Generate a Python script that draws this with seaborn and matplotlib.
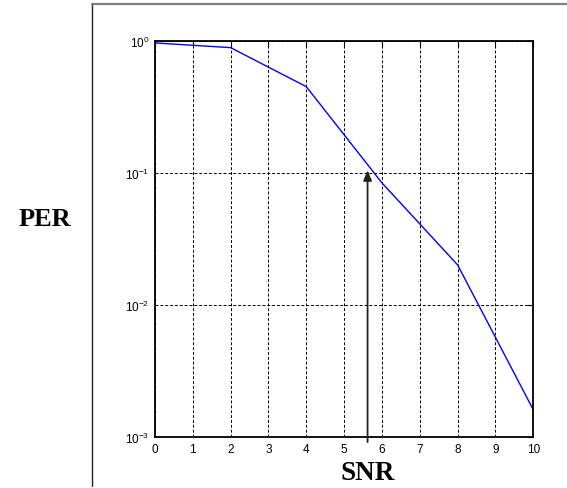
import math
import matplotlib
matplotlib.use("Agg")
import matplotlib.pyplot as plt
import seaborn as sns
import pandas as pd
from matplotlib.lines import Line2D
from matplotlib.ticker import FixedLocator, FuncFormatter, NullLocator

# Data
snr = [0, 2, 4, 6, 8, 10]
per = [0.966, 0.89, 0.451, 0.0843, 0.0202, 0.00162]
x_ticks = list(range(0, 11))
y_ticks = [1e-3, 1e-2, 1e-1, 1e0]
arrow_x = 5.62
arrow_y_tip = 0.105
arrow_y_start = 0.00092

sns.set_style("white")
plt.rcParams['font.family'] = ['Liberation Sans', 'DejaVu Sans']
plt.rcParams['mathtext.fontset'] = 'custom'
plt.rcParams['mathtext.rm'] = 'Liberation Sans'
plt.rcParams['mathtext.default'] = 'regular'
plt.rcParams['text.color'] = 'black'
plt.rcParams['xtick.color'] = 'black'
plt.rcParams['ytick.color'] = 'black'

fig = plt.figure(figsize=(5.67, 4.89), dpi=100)
ax = fig.add_axes([0.2734, 0.1037, 0.667, 0.8105])

df = pd.DataFrame({"SNR": snr, "PER": per})
sns.lineplot(data=df, x="SNR", y="PER", ax=ax, color="#0000ff", linewidth=1.0)

ax.set_yscale("log")
ax.set_xlim(0, 10)
ax.set_ylim(1e-3, 1e0)
ax.xaxis.set_major_locator(FixedLocator(x_ticks))
ax.yaxis.set_major_locator(FixedLocator(y_ticks))
ax.yaxis.set_minor_locator(NullLocator())
ax.yaxis.set_major_formatter(FuncFormatter(lambda v, p: r'$10^{%d}$' % round(math.log10(v))))
ax.tick_params(axis='both', which='major', direction='in', length=4, width=0.8,
               labelsize=8.5, colors='black', top=True, right=True, pad=4)
ax.grid(True, which='major', color='black', linestyle=(0, (3, 2)), linewidth=0.7)
for s in ax.spines.values():
    s.set_visible(True)
    s.set_color('black')
    s.set_linewidth(1.3)
ax.set_xlabel("")
ax.set_ylabel("")

# Arrow
ax.annotate("", xy=(arrow_x, arrow_y_tip), xytext=(arrow_x, arrow_y_start),
            xycoords='data', textcoords='data', annotation_clip=False,
            arrowprops=dict(arrowstyle='-|>,head_length=0.6,head_width=0.25',
                            color='#222222', lw=1.3, shrinkA=0, shrinkB=0))

# Labels
fig.text(45 / 567, 1 - 220 / 489, "PER", fontsize=19, fontweight='bold',
         family='Liberation Serif', ha='center', va='center', color='black')
fig.text(368 / 567, 1 - 474 / 489, "SNR", fontsize=19.5, fontweight='bold',
         family='Liberation Serif', ha='center', va='center', color='black')

# Outer frame lines
fig.add_artist(Line2D([92 / 567, 92 / 567], [1 - 5 / 489, 1 - 487 / 489],
                      transform=fig.transFigure, color='#222222', linewidth=1.0))
fig.add_artist(Line2D([92 / 567, 1.0], [1 - 5 / 489, 1 - 5 / 489],
                      transform=fig.transFigure, color='#808080', linewidth=1.6))

fig.savefig("out.png", dpi=100)
